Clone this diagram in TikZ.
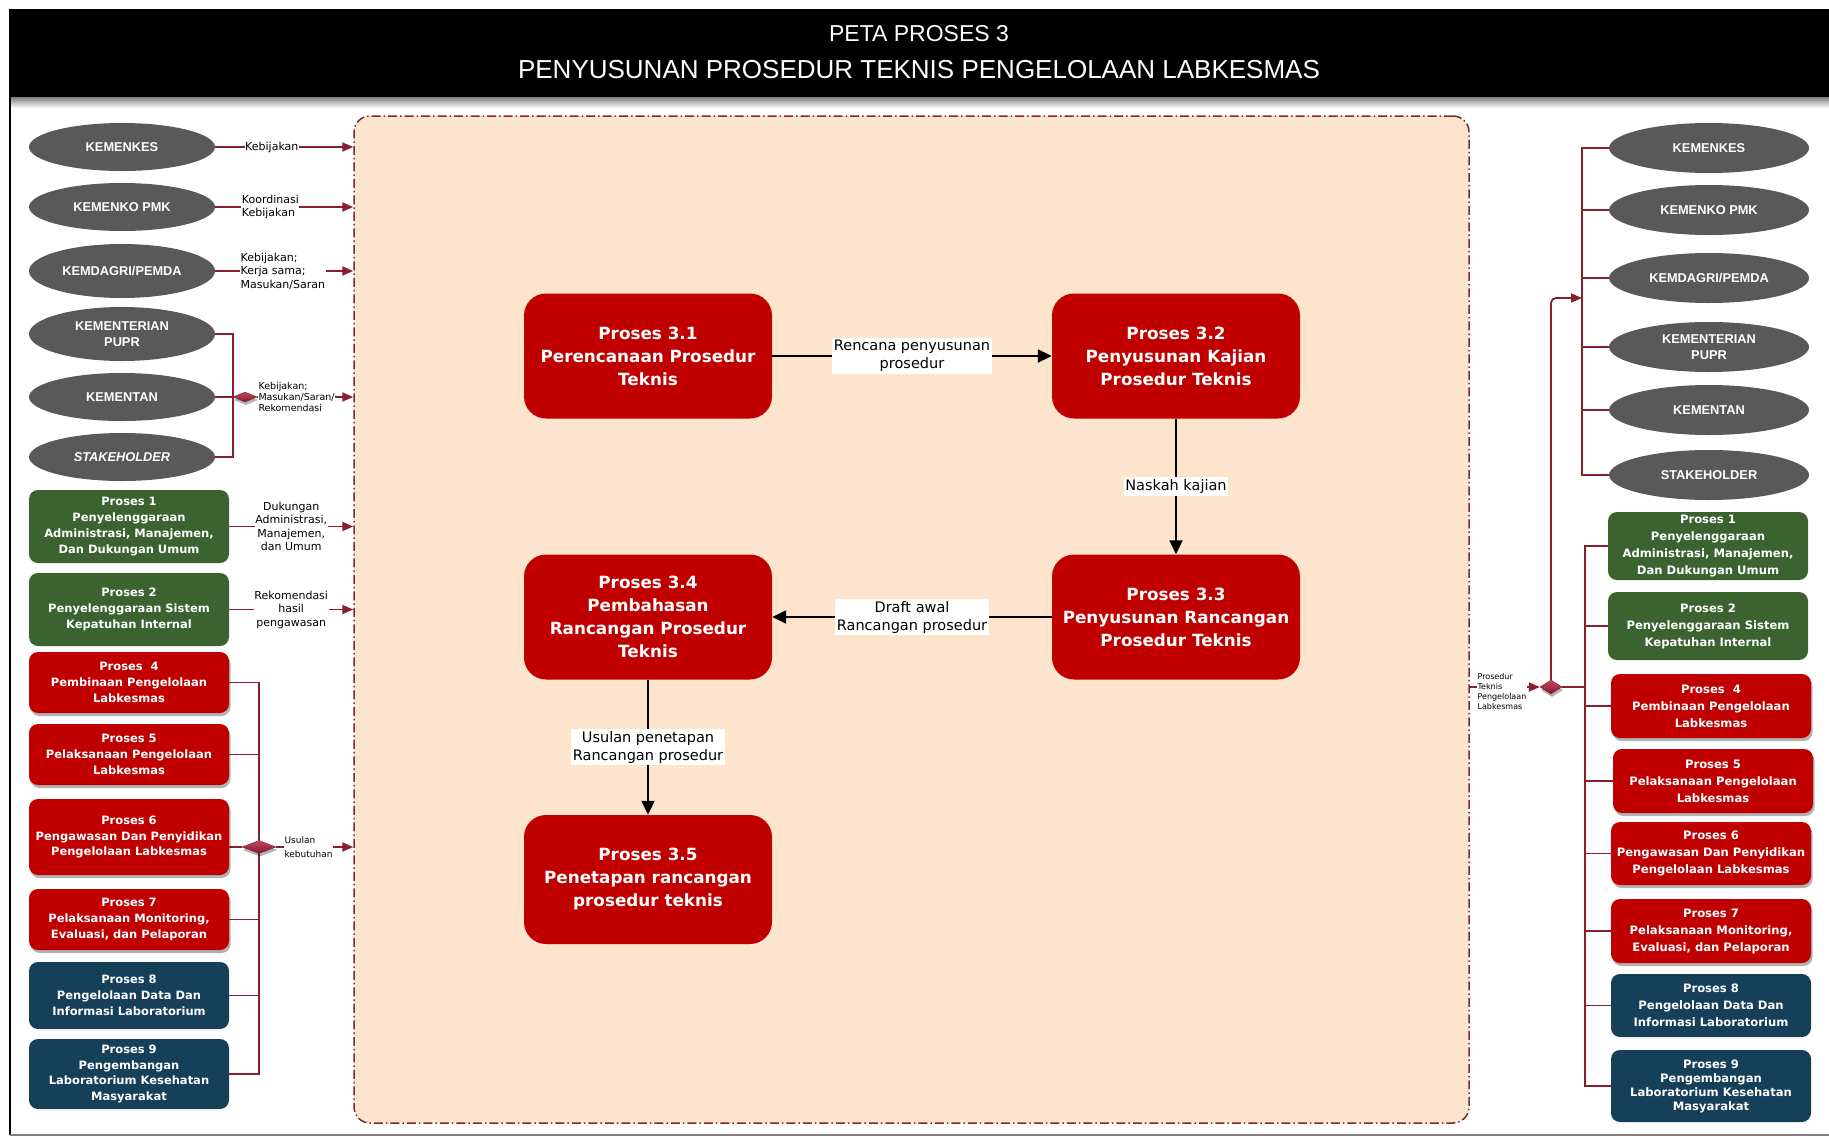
\documentclass[tikz,border=0pt]{standalone}
\usepackage{fontspec}
\setmainfont{DejaVu Sans}
\newfontfamily\arialf{Liberation Sans}
\newfontfamily\dejaf{DejaVu Sans}
\usetikzlibrary{shapes.geometric,arrows.meta,shadows,calc}

\definecolor{peach}{RGB}{252,228,205}
\definecolor{framered}{RGB}{128,40,52}
\definecolor{conred}{RGB}{136,30,46}
\definecolor{ellgray}{RGB}{89,89,89}
\definecolor{boxred}{RGB}{192,0,0}
\definecolor{boxgreen}{RGB}{58,99,48}
\definecolor{boxblue}{RGB}{22,64,90}
\definecolor{diamhi}{RGB}{196,72,92}
\definecolor{diamlo}{RGB}{130,24,44}

\newcommand\fTitleA{\arialf\fontsize{23}{27}\selectfont}
\newcommand\fTitleB{\arialf\fontsize{26}{30}\selectfont}
\newcommand\fEll{\arialf\bfseries\fontsize{12.8}{16}\selectfont}
\newcommand\fMain{\dejaf\bfseries\fontsize{16.8}{23}\selectfont}
\newcommand\fEdge{\dejaf\fontsize{14.5}{18}\selectfont}
\newcommand\fSideL{\dejaf\bfseries\fontsize{11.5}{15.7}\selectfont}
\newcommand\fSideR{\dejaf\bfseries\fontsize{11.6}{17}\selectfont}
\newcommand\fLblA{\dejaf\fontsize{11}{13.5}\selectfont}
\newcommand\fLblB{\dejaf\fontsize{9.5}{11}\selectfont}
\newcommand\fLblC{\dejaf\fontsize{9}{14}\selectfont}
\newcommand\fLblD{\dejaf\fontsize{8}{10}\selectfont}

\tikzset{
  ell/.style={ellipse, fill=ellgray, text=white, inner sep=0pt, align=center,
    minimum height=48pt, font=\fEll},
  lell/.style={ell, minimum width=186pt},
  rell/.style={ell, minimum width=200pt},
  sidebox/.style={rectangle, rounded corners=9pt, text=white, align=center,
    inner sep=0pt, minimum width=200pt},
  lbox/.style={sidebox, font=\fSideL},
  rbox/.style={sidebox, font=\fSideR},
  softshadow/.style={drop shadow={shadow xshift=1.5pt, shadow yshift=-3pt,
    opacity=0.3, fill=black}},
  redbox/.style={fill=boxred, softshadow},
  greenbox/.style={fill=boxgreen},
  bluebox/.style={fill=boxblue},
  mainbox/.style={rectangle, fill=boxred, text=white, rounded corners=22pt,
    minimum width=248pt, minimum height=125pt, align=center, inner sep=0pt,
    font=\fMain},
  dmd/.style={diamond, inner sep=0pt, top color=diamhi, bottom color=diamlo,
    draw=diamlo, line width=0.4pt,
    drop shadow={shadow xshift=1pt, shadow yshift=-3pt, opacity=0.3, fill=black}},
  rcon/.style={draw=conred, line width=1.8pt},
  rarr/.style={rcon, -{Triangle[length=11pt,width=9pt]}},
  barr/.style={draw=black, line width=1.8pt, -{Triangle[length=14pt,width=13pt]}},
  elbl/.style={fill=white, text=black, inner xsep=1.5pt, inner ysep=2pt,
    align=center, font=\fEdge},
  slbl/.style={fill=white, text=black, inner sep=0.5pt},
}

\begin{document}
\begin{tikzpicture}[x=1pt,y=-1pt]
\useasboundingbox (0,0) rectangle (1829,1138);
\fill[white] (0,0) rectangle (1829,1138);

% ---------- title bar ----------
\shade[top color=black!55, bottom color=white] (9,96) rectangle (1829,108);
\fill[black] (9,9) rectangle (1829,97);
\node[text=white, font=\fTitleA] (titleA) at (919,34) {PETA PROSES 3};
\node[text=white, font=\fTitleB] (titleB) at (919,70) {PENYUSUNAN PROSEDUR TEKNIS PENGELOLAAN LABKESMAS};

% page frame
\draw[black, line width=2.6pt] (10,97) -- (10,1135);
\draw[black!50, line width=1.4pt] (10,1135) -- (1829,1135);

% ---------- process area ----------
\node[draw=framered, line width=1.5pt, dash pattern=on 9pt off 3pt on 1.5pt off 3pt,
  fill=peach, rounded corners=16pt, minimum width=1115pt, minimum height=1007pt,
  inner sep=0pt] (frame) at (911.5,619.5) {};

\node[mainbox] (p31) at (648,356) {Proses 3.1\\Perencanaan Prosedur\\Teknis};
\node[mainbox] (p32) at (1176,356) {Proses 3.2\\Penyusunan Kajian\\Prosedur Teknis};
\node[mainbox] (p33) at (1176,617) {Proses 3.3\\Penyusunan Rancangan\\Prosedur Teknis};
\node[mainbox] (p34) at (648,617) {Proses 3.4\\Pembahasan\\Rancangan Prosedur\\Teknis};
\node[mainbox, minimum height=129pt] (p35) at (648,879.5) {Proses 3.5\\Penetapan rancangan\\prosedur teknis};

\draw[barr] (p31) -- node[elbl] (e1) {Rencana penyusunan\\prosedur} (p32);
\draw[barr] (p32) -- node[elbl] (e2) {Naskah kajian} (p33);
\draw[barr] (p33) -- node[elbl] (e3) {Draft awal\\Rancangan prosedur} (p34);
\draw[barr] (p34) -- node[elbl] (e4) {Usulan penetapan\\Rancangan prosedur} (p35);

% ---------- left: external parties ----------
\node[lell] (lk1) at (122,147) {KEMENKES};
\node[lell] (lk2) at (122,207) {KEMENKO PMK};
\node[lell, minimum height=54pt] (lk3) at (122,271) {KEMDAGRI/PEMDA};
\node[lell, minimum height=54pt] (lk4) at (122,334) {KEMENTERIAN\\PUPR};
\node[lell] (lk5) at (122,397) {KEMENTAN};
\node[lell] (lk6) at (122,457) {\itshape STAKEHOLDER};

\draw[rarr] (lk1.east) -- node[slbl, pos=0.41, font=\fLblA] (la1) {Kebijakan} (lk1.east -| frame.west);
\draw[rarr] (lk2.east) -- node[slbl, pos=0.40, font=\fLblA, align=left] (la2) {Koordinasi\\Kebijakan} (lk2.east -| frame.west);
\draw[rarr] (lk3.east) -- node[slbl, pos=0.49, font=\fLblA, align=left] (la3) {Kebijakan;\\Kerja sama;\\Masukan/Saran} (lk3.east -| frame.west);

\draw[rcon] (lk4.east) -- ++(18,0) |- (lk6.east);
\node[dmd, minimum width=24pt, minimum height=10pt] (ldm1) at (245,397) {};
\draw[rcon] (lk5.east) -- (ldm1.west);
\draw[rarr] (ldm1.east) -- node[slbl, pos=0.41, font=\fLblB, align=left] (la4) {Kebijakan;\\Masukan/Saran/\\Rekomendasi} (ldm1.east -| frame.west);

% ---------- left: related processes ----------
\node[lbox, greenbox, minimum height=73pt] (lp1) at (129,526.5) {Proses 1\\Penyelenggaraan\\Administrasi, Manajemen,\\Dan Dukungan Umum};
\node[lbox, greenbox, minimum height=73pt] (lp2) at (129,609.5) {Proses 2\\Penyelenggaraan Sistem\\Kepatuhan Internal};
\node[lbox, redbox, minimum height=61pt] (lp4) at (129,682.5) {Proses\ \ 4\\Pembinaan Pengelolaan\\Labkesmas};
\node[lbox, redbox, minimum height=61pt] (lp5) at (129,754.5) {Proses 5\\Pelaksanaan Pengelolaan\\Labkesmas};
\node[lbox, redbox, minimum height=76pt] (lp6) at (129,837) {Proses 6\\Pengawasan Dan Penyidikan\\Pengelolaan Labkesmas};
\node[lbox, redbox, minimum height=61pt] (lp7) at (129,919.5) {Proses 7\\Pelaksanaan Monitoring,\\Evaluasi, dan Pelaporan};
\node[lbox, bluebox, minimum height=67pt] (lp8) at (129,995.5) {Proses 8\\Pengelolaan Data Dan\\Informasi Laboratorium};
\node[lbox, bluebox, minimum height=70pt] (lp9) at (129,1074) {Proses 9\\Pengembangan\\Laboratorium Kesehatan\\Masyarakat};

\draw[rarr] (lp1.east) -- node[slbl, pos=0.50, font=\fLblA, align=center] (lb1) {Dukungan\\Administrasi,\\Manajemen,\\dan Umum} (lp1.east -| frame.west);
\draw[rarr] (lp2.east) -- node[slbl, pos=0.50, font=\fLblA, align=center] (lb2) {Rekomendasi\\hasil\\pengawasan} (lp2.east -| frame.west);

\coordinate (lbus) at (259,0);
\draw[rcon] (lp4.east) -- (lp4.east -| lbus) -- (lp9.east -| lbus) -- (lp9.east);
\draw[rcon] (lp5.east) -- (lp5.east -| lbus);
\draw[rcon] (lp7.east) -- (lp7.east -| lbus);
\draw[rcon] (lp8.east) -- (lp8.east -| lbus);
\node[dmd, minimum width=34pt, minimum height=13pt] (ldm2) at (259,847) {};
\draw[rcon] (ldm2.west -| lp6.east) -- (ldm2.west);
\draw[rarr] (ldm2.east) -- node[slbl, pos=0.42, font=\fLblC, align=left] (lb3) {Usulan\\kebutuhan} (ldm2.east -| frame.west);

% ---------- right: recipients ----------
\node[rell, minimum height=50pt] (rk1) at (1709,148) {KEMENKES};
\node[rell, minimum height=50pt] (rk2) at (1709,210) {KEMENKO PMK};
\node[rell, minimum height=50pt] (rk3) at (1709,278) {KEMDAGRI/PEMDA};
\node[rell, minimum height=50pt] (rk4) at (1709,347) {KEMENTERIAN\\PUPR};
\node[rell, minimum height=50pt] (rk5) at (1709,410) {KEMENTAN};
\node[rell, minimum height=50pt] (rk6) at (1709,475) {STAKEHOLDER};

\coordinate (rbus1) at (1582,0);
\draw[rcon] (rk1.west) -- (rk1.west -| rbus1) -- (rk6.west -| rbus1) -- (rk6.west);
\draw[rcon] (rk2.west) -- (rk2.west -| rbus1);
\draw[rcon] (rk3.west) -- (rk3.west -| rbus1);
\draw[rcon] (rk4.west) -- (rk4.west -| rbus1);
\draw[rcon] (rk5.west) -- (rk5.west -| rbus1);

\node[rbox, greenbox, minimum height=68pt] (rp1) at (1708,546) {Proses 1\\Penyelenggaraan\\Administrasi, Manajemen,\\Dan Dukungan Umum};
\node[rbox, greenbox, minimum height=68pt] (rp2) at (1708,626) {Proses 2\\Penyelenggaraan Sistem\\Kepatuhan Internal};
\node[rbox, redbox, minimum height=64pt] (rp4) at (1711,706) {Proses\ \ 4\\Pembinaan Pengelolaan\\Labkesmas};
\node[rbox, redbox, minimum height=64pt] (rp5) at (1713,781) {Proses 5\\Pelaksanaan Pengelolaan\\Labkesmas};
\node[rbox, redbox, minimum height=63pt] (rp6) at (1711,853.5) {Proses 6\\Pengawasan Dan Penyidikan\\Pengelolaan Labkesmas};
\node[rbox, redbox, minimum height=64pt] (rp7) at (1711,931) {Proses 7\\Pelaksanaan Monitoring,\\Evaluasi, dan Pelaporan};
\node[rbox, bluebox, minimum height=63pt] (rp8) at (1711,1005.5) {Proses 8\\Pengelolaan Data Dan\\Informasi Laboratorium};
\node[rbox, bluebox, minimum height=72pt, font=\dejaf\bfseries\fontsize{11.6}{14}\selectfont] (rp9) at (1711,1086) {Proses 9\\Pengembangan\\Laboratorium Kesehatan\\Masyarakat};

\coordinate (rbus2) at (1585,0);
\draw[rcon] (rp1.west) -- (rp1.west -| rbus2) -- (rp9.west -| rbus2) -- (rp9.west);
\draw[rcon] (rp2.west) -- (rp2.west -| rbus2);
\draw[rcon] (rp4.west) -- (rp4.west -| rbus2);
\draw[rcon] (rp5.west) -- (rp5.west -| rbus2);
\draw[rcon] (rp6.west) -- (rp6.west -| rbus2);
\draw[rcon] (rp7.west) -- (rp7.west -| rbus2);
\draw[rcon] (rp8.west) -- (rp8.west -| rbus2);

\node[dmd, minimum width=22pt, minimum height=14pt] (rdm) at (1551,687) {};
\draw[rarr] (rdm.west -| frame.east) -- node[slbl, pos=0.46, yshift=-5pt, font=\fLblD, align=left] (rlb) {Prosedur\\Teknis\\Pengelolaan\\Labkesmas} (rdm.west);
\draw[rcon] (rdm.east) -- (rdm.east -| rbus2);
\draw[rarr, rounded corners=5pt] (rdm.north) |- (1582,298);
\end{tikzpicture}
\end{document}
